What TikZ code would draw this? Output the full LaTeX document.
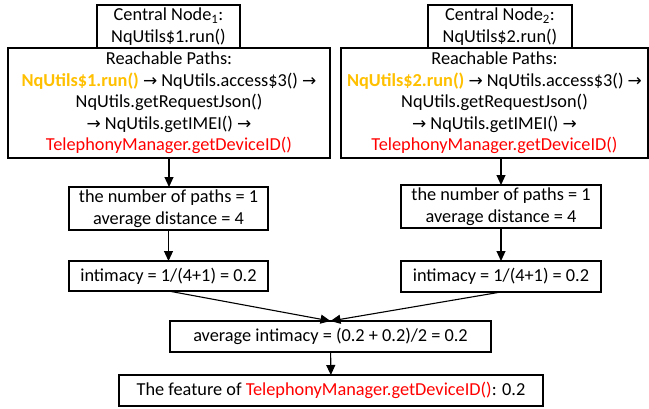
\documentclass[tikz,border=0pt]{standalone}
\usepackage{fontspec}
\setmainfont{Carlito}
\newfontfamily\arrowfont{DejaVu Sans}
\usetikzlibrary{arrows.meta}
\definecolor{hot}{RGB}{255,192,0}
\definecolor{sink}{RGB}{255,0,0}
\newcommand{\ar}{{\arrowfont\fontsize{17}{17}\selectfont →}}
\newcommand{\src}[1]{\textcolor{hot}{\bfseries #1}}
\newcommand{\api}{\textcolor{sink}{TelephonyManager.getDeviceID()}}
\begin{document}
\begin{tikzpicture}[x=1pt,y=-1pt,
  box/.style={draw, line width=1.1pt, rectangle, inner sep=0pt, outer sep=0pt,
    align=center, fill=white, font=\fontsize{18.3}{21.6}\selectfont},
  flow/.style={line width=1.1pt, -{Triangle[length=10pt,width=9pt]}}]
\useasboundingbox (0,0) rectangle (649,408);

\node[box, minimum width=322pt, minimum height=110pt] (reach1) at (169,103)
  {Reachable Paths:\\ \src{NqUtils\$1.run()} \ar{} NqUtils.access\$3() \ar\\
   NqUtils.getRequestJson()\\ \ar{} NqUtils.getIMEI() \ar\\ \api};
\node[box, minimum width=143pt, minimum height=43pt] (top1) at (168.5,26.5)
  {Central Node\textsubscript{1}:\\NqUtils\$1.run()};

\node[box, minimum width=307pt, minimum height=110pt] (reach2) at (494.5,103)
  {Reachable Paths:\\ \src{NqUtils\$2.run()} \ar{} NqUtils.access\$3() \ar\\
   NqUtils.getRequestJson()\\ \ar{} NqUtils.getIMEI() \ar\\ \api};
\node[box, minimum width=144pt, minimum height=43pt] (top2) at (500,26.5)
  {Central Node\textsubscript{2}:\\NqUtils\$2.run()};

\node[box, minimum width=199pt, minimum height=43pt] (num1) at (168.5,208.5)
  {the number of paths = 1\\average distance = 4};
\node[box, minimum width=200pt, minimum height=43pt] (num2) at (501,206.5)
  {the number of paths = 1\\average distance = 4};

\node[box, minimum width=199pt, minimum height=30pt] (int1) at (168.5,276)
  {intimacy = 1/(4+1) = 0.2};
\node[box, minimum width=200pt, minimum height=31pt] (int2) at (501,276.5)
  {intimacy = 1/(4+1) = 0.2};

\node[box, minimum width=321pt, minimum height=31pt] (avg) at (330.5,336.5)
  {average intimacy = (0.2 + 0.2)/2 = 0.2};
\node[box, minimum width=424pt, minimum height=31pt] (feat) at (331,390.5)
  {The feature of \api: 0.2};

\draw[flow] (reach1.south) -- (reach1.south |- num1.north);
\draw[flow] (num2.north |- reach2.south) -- (num2.north);
\draw[flow] (num1) -- (int1);
\draw[flow] (num2) -- (int2);
\draw[flow] (int1.south) -- (avg.north);
\draw[flow] (int2.south) -- (avg.north);
\draw[flow] (avg) -- (feat);
\end{tikzpicture}
\end{document}
